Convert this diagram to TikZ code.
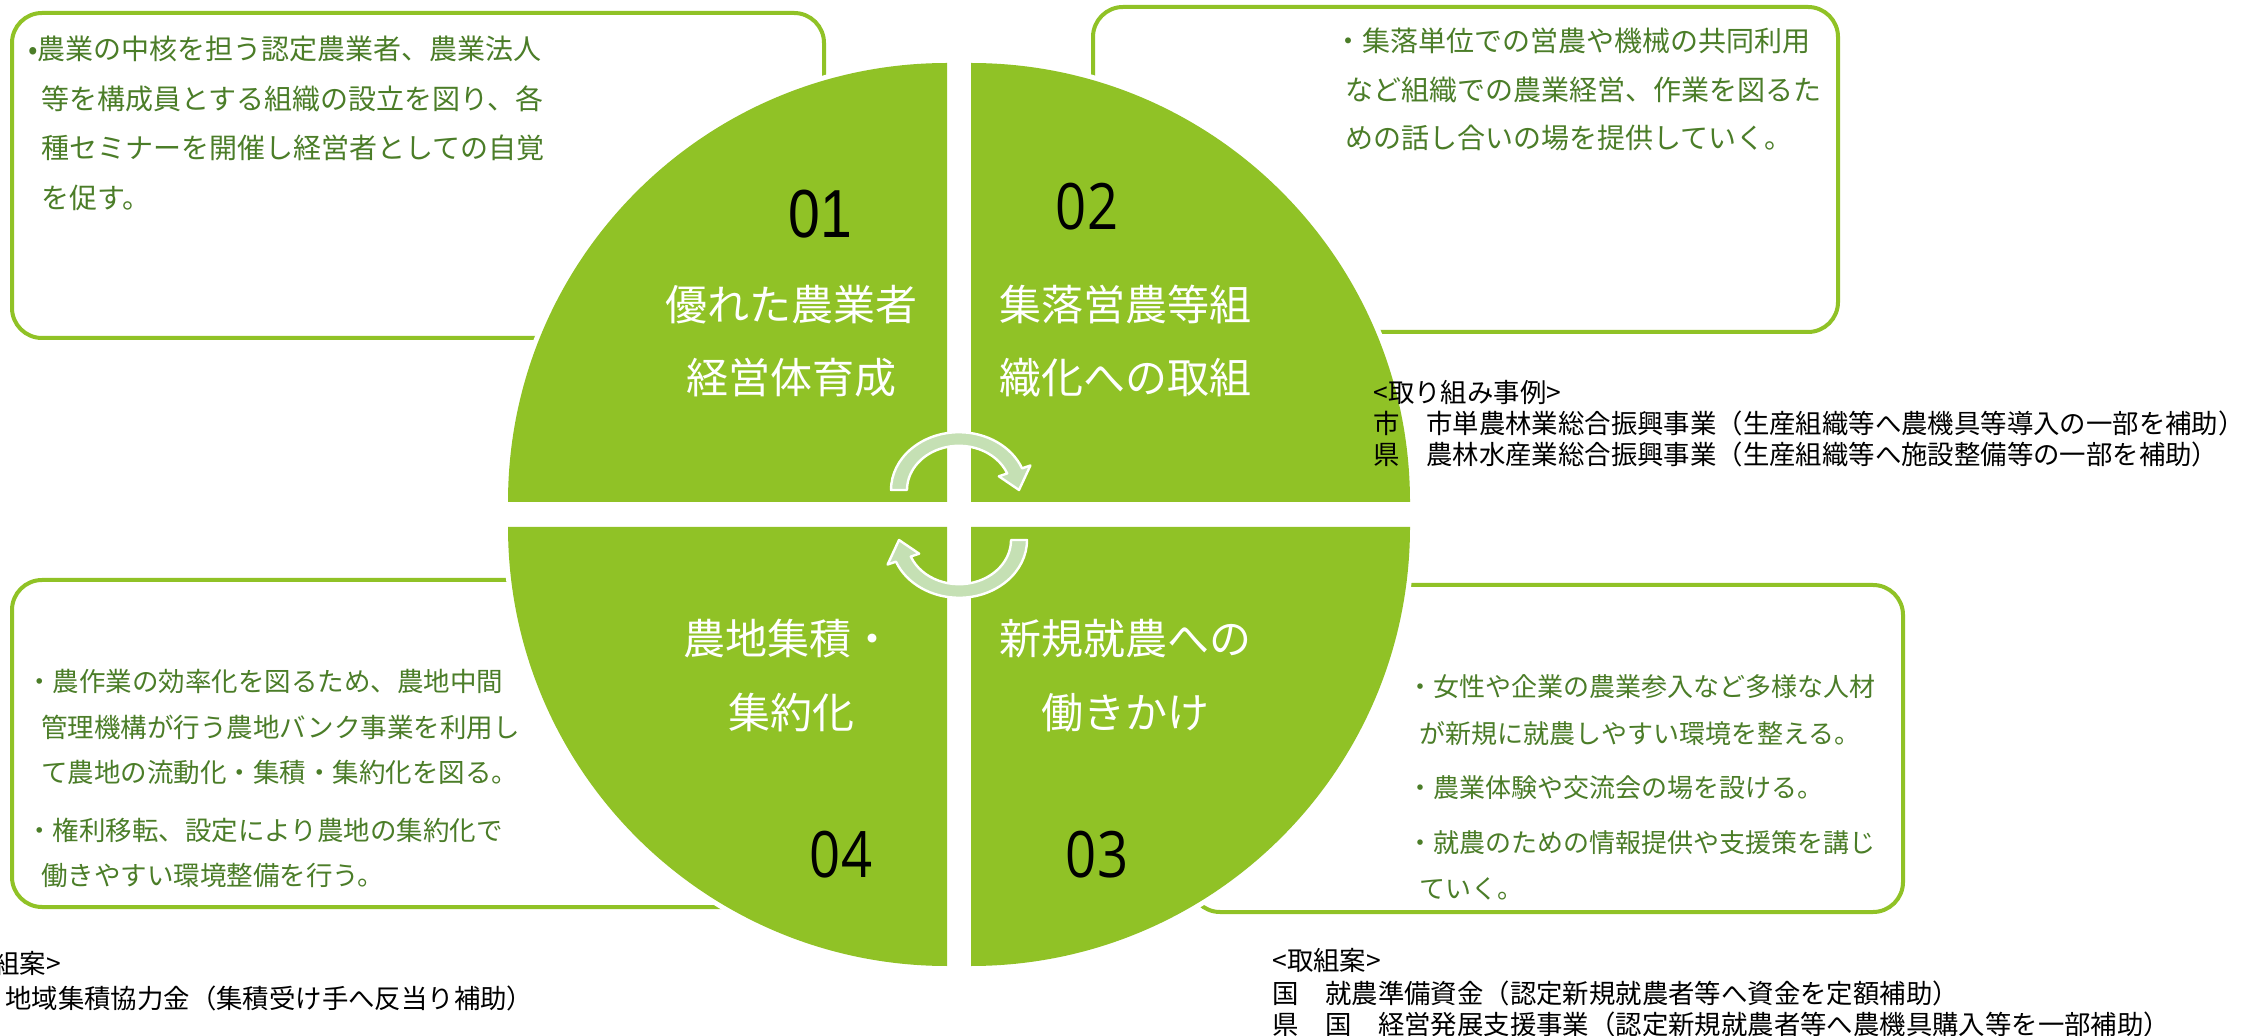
\documentclass[tikz,border=0pt]{standalone}
\usepackage{fontspec}
\usepackage{graphicx}
\setmainfont{Noto Sans CJK JP}
\newfontfamily\numfont{Open Sans}
\newfontfamily\arialfont{Liberation Sans}
\definecolor{qgreen}{HTML}{90C226}
\definecolor{bgreen}{HTML}{90C226}
\definecolor{tgreen}{HTML}{4B7D28}
\definecolor{agreen}{HTML}{C5E0B4}
\begin{document}
\begin{tikzpicture}[x=0.5pt,y=-0.5pt,
  box/.style={draw=bgreen, line width=2pt, rounded corners=15pt},
  quad/.style={fill=qgreen},
  halo/.style={fill=white},
  cyc/.style={fill=agreen, draw=white, line width=1.2pt, line join=round},
  btxt/.style={anchor=base west, inner sep=0pt, text=tgreen, font=\fontsize{14pt}{16pt}\selectfont},
  btxs/.style={anchor=base west, inner sep=0pt, text=tgreen, font=\fontsize{13.25pt}{15pt}\selectfont},
  btxr/.style={anchor=base west, inner sep=0pt, text=tgreen, font=\fontsize{13pt}{15pt}\selectfont},
  note/.style={anchor=base west, inner sep=0pt, text=black, font=\fontsize{13.2pt}{15pt}\selectfont},
  qtxt/.style={anchor=base, inner sep=0pt, text=white, font=\fontsize{21pt}{24pt}\selectfont},
  num/.style={anchor=center, inner sep=0pt, text=black},
  cycarrow/.pic={
    \path[cyc, yscale=0.85] (180:52) -- (180:68)
      arc[start angle=180, end angle=338, radius=68] -- (338:77) -- (0:60)
      -- (338:43) -- (338:52) arc[start angle=338, end angle=180, radius=52] -- cycle;
  }
]
\useasboundingbox (0,0) rectangle (2264,1036);
\clip (0,0) rectangle (2264,1036);
\fill[white] (0,0) rectangle (2264,1036);

% text boxes
\draw[box] (12,13) rectangle (824,338);
\draw[box] (1093,7) rectangle (1838,332);
\draw[box] (12,580) rectangle (760,907);
\draw[box] (1190,585) rectangle (1903,912);

% white halos of the quadrants
\fill[halo] (947,502) -- ++(180:444) arc[start angle=180, end angle=270, radius=444] -- cycle;
\fill[halo] (971,502) -- ++(270:444) arc[start angle=270, end angle=360, radius=444] -- cycle;
\fill[halo] (971,527) -- ++(0:444) arc[start angle=0, end angle=90, radius=444] -- cycle;
\fill[halo] (947,527) -- ++(90:444) arc[start angle=90, end angle=180, radius=444] -- cycle;
% quadrants
\fill[quad] (947,502) -- ++(180:439) arc[start angle=180, end angle=270, radius=439] -- cycle;
\fill[quad] (971,502) -- ++(270:439) arc[start angle=270, end angle=360, radius=439] -- cycle;
\fill[quad] (971,527) -- ++(0:439) arc[start angle=0, end angle=90, radius=439] -- cycle;
\fill[quad] (947,527) -- ++(90:439) arc[start angle=90, end angle=180, radius=439] -- cycle;

% circular arrows
\pic at (959,490) {cycarrow};
\pic[rotate=180] at (959,540) {cycarrow};

% numbers
\node[num, font=\arialfont\fontsize{34pt}{36pt}\selectfont] (n1) at (820,214) {\scalebox{0.84}[1]{01}};
\node[num, font=\numfont\fontsize{32pt}{34pt}\selectfont] (n2) at (1087,207) {\scalebox{0.85}[1]{02}};
\node[num, font=\numfont\fontsize{32pt}{34pt}\selectfont] (n3) at (1097,855) {\scalebox{0.85}[1]{03}};
\node[num, font=\numfont\fontsize{32pt}{34pt}\selectfont] (n4) at (841,855) {\scalebox{0.85}[1]{04}};

% quadrant titles
\node[qtxt] (q1a) at (791,321) {優れた農業者};
\node[qtxt] (q1b) at (791,394) {経営体育成};
\node[qtxt] (q2a) at (1125,321) {集落営農等組};
\node[qtxt] (q2b) at (1125,394) {織化への取組};
\node[qtxt] (q3a) at (1125,655) {新規就農への};
\node[qtxt] (q3b) at (1125,728) {働きかけ};
\node[qtxt] (q4a) at (788,655) {農地集積・};
\node[qtxt] (q4b) at (791,728) {集約化};

% top-left box
\node[btxt] (t1) at (28,60) {•農業の中核を担う認定農業者、農業法人};
\node[btxt] (t2) at (41,110) {等を構成員とする組織の設立を図り、各};
\node[btxt] (t3) at (41,159) {種セミナーを開催し経営者としての自覚};
\node[btxt] (t4) at (41,209) {を促す。};

% top-right box
\node[btxt] (r1) at (1334,52) {・集落単位での営農や機械の共同利用};
\node[btxt] (r2) at (1345,101) {など組織での農業経営、作業を図るた};
\node[btxt] (r3) at (1345,149) {めの話し合いの場を提供していく。};

% right notes
\node[note] (e0) at (1373,403) {<取り組み事例>};
\node[note] (e1) at (1373,434) {市　市単農林業総合振興事業（生産組織等へ農機具等導入の一部を補助）};
\node[note] (e2) at (1373,465) {県　農林水産業総合振興事業（生産組織等へ施設整備等の一部を補助）};

% lower-left box
\node[btxs] (l1) at (26,692) {・農作業の効率化を図るため、農地中間};
\node[btxs] (l2) at (41,738) {管理機構が行う農地バンク事業を利用し};
\node[btxs] (l3) at (41,783) {て農地の流動化・集積・集約化を図る。};
\node[btxs] (l4) at (26,840) {・権利移転、設定により農地の集約化で};
\node[btxs] (l5) at (41,885) {働きやすい環境整備を行う。};

% lower-right box
\node[btxr] (m1) at (1407,697) {・女性や企業の農業参入など多様な人材};
\node[btxr] (m2) at (1419,743) {が新規に就農しやすい環境を整える。};
\node[btxr] (m3) at (1407,798) {・農業体験や交流会の場を設ける。};
\node[btxr] (m4) at (1407,852) {・就農のための情報提供や支援策を講じ};
\node[btxr] (m5) at (1419,898) {ていく。};

% bottom-left notes (cut by the left edge, as in the reference)
\node[note] (f0) at (-48,973) {<取組案>};
\node[note] (f1) at (-48,1008) {国　地域集積協力金（集積受け手へ反当り補助）};

% bottom-right notes
\node[note] (g0) at (1272,970) {<取組案>};
\node[note] (g1) at (1272,1003) {国　就農準備資金（認定新規就農者等へ資金を定額補助）};
\node[note] (g2) at (1272,1034) {県　国　経営発展支援事業（認定新規就農者等へ農機具購入等を一部補助）};
\end{tikzpicture}
\end{document}
